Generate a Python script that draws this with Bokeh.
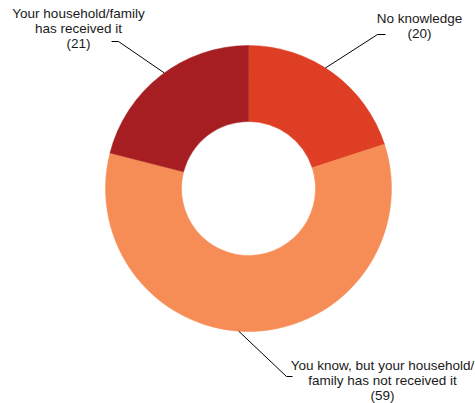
import math
from bokeh.plotting import figure
from bokeh.models import Range1d, ColumnDataSource
from bokeh.core.properties import value
from bokeh.embed import file_html
from bokeh.resources import INLINE

# ---- data ----
categories = ["No knowledge",
              "You know, but your household/\nfamily has not received it",
              "Your household/family\nhas received it"]
counts = [20, 59, 21]
colors = ["#DE3F24", "#F78D56", "#A61E22"]

# ---- layout (page pixel space, y measured downward then flipped) ----
W, H = 475, 403
cx, cy_px = 248, 188
cy = H - cy_px
r_out, r_in = 143, 67

total = sum(counts)
angles = []
start = math.pi / 2
for c in counts:
    sweep = 2 * math.pi * c / total
    angles.append((start, start - sweep))
    start -= sweep

p = figure(width=W, height=H, output_backend="svg", toolbar_location=None,
           x_range=Range1d(0, W), y_range=Range1d(0, H), min_border=0)
p.axis.visible = False
p.grid.visible = False
p.outline_line_color = None
p.background_fill_color = "white"

src = ColumnDataSource(dict(
    start=[a[0] for a in angles], end=[a[1] for a in angles], color=colors,
    x=[cx] * 3, y=[cy] * 3))
p.annular_wedge(x="x", y="y", inner_radius=r_in, outer_radius=r_out,
                start_angle="start", end_angle="end", direction="clock",
                fill_color="color", line_color="color", line_width=0.5, source=src)

# leader lines and labels (layout per slice)
angle_adjust = [0.06, -0.1, -0.03]   # radians shift of leader start
elbows = [(377, 34), (286, 376), (118, 41)]
ends = [(385, 34), (292, 376), (111, 41)]
label_pos = [(419, 25), (382, 380), (78, 28)]

for i in range(3):
    mid = (angles[i][0] + angles[i][1]) / 2 + angle_adjust[i]
    sx = cx + r_out * math.cos(mid)
    sy = cy + r_out * math.sin(mid)
    ex, ey = elbows[i]
    fx, fy = ends[i]
    p.line([sx, ex, fx], [sy, H - ey, H - fy], line_color="black", line_width=1)
    lx, ly = label_pos[i]
    p.text(x=[lx], y=[H - ly], text=[f"{categories[i]}\n({counts[i]})"],
           text_align="center", text_baseline="middle",
           text_font=value("Liberation Sans"), text_font_size="13.5px",
           text_color="#1a1a1a", text_line_height=1.0)

open("out.html", "w").write(file_html(p, INLINE))
